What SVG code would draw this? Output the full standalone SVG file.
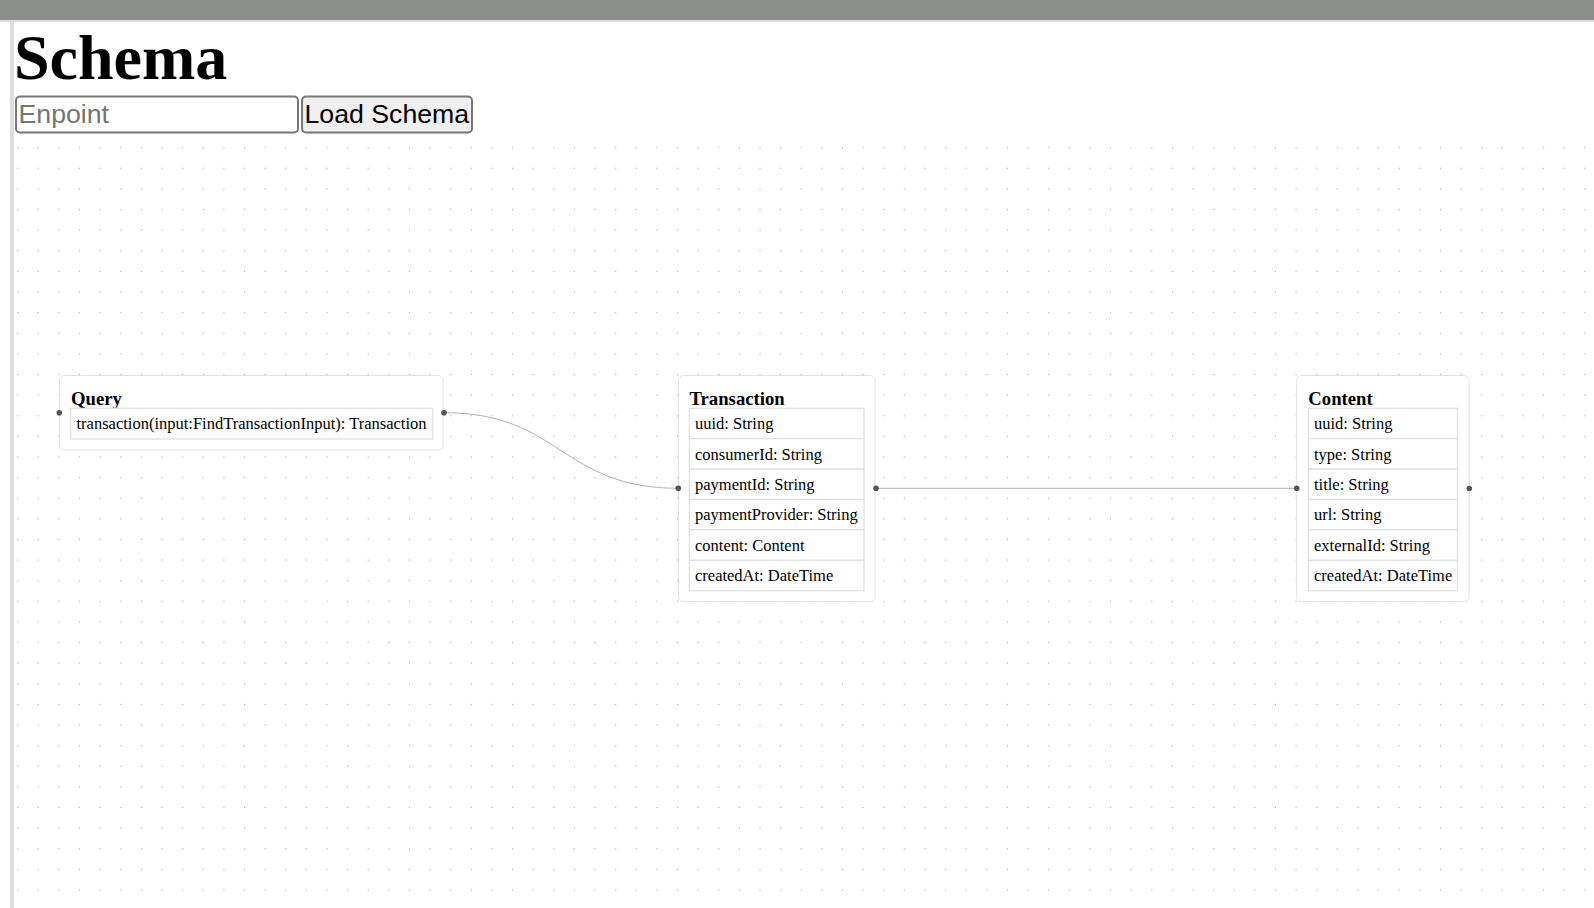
<svg xmlns="http://www.w3.org/2000/svg" width="1594" height="908" viewBox="0 0 1594 908">
<style>
.node{fill:#ffffff;stroke:#e2e2e2;stroke-width:1}
.row{fill:#ffffff;stroke:#e0e0e0;stroke-width:1.2}
.title{font-family:"Liberation Serif","Times New Roman",serif;font-weight:bold;font-size:18.7px;fill:#000}
.field{font-family:"Liberation Serif","Times New Roman",serif;font-size:16.5px;fill:#000}
.handle{fill:#555555}
.edge{fill:none;stroke:#b1b1b7;stroke-width:1}
</style>
<defs>
<pattern id="dots" x="7.39" y="137.39" width="20.62" height="20.62" patternUnits="userSpaceOnUse">
<circle cx="10.31" cy="10.31" r="0.7" fill="#b4b4b4"/>
</pattern>
</defs>
<rect x="0" y="0" width="1594" height="908" fill="#ffffff"/>
<rect x="0" y="0" width="1594" height="20" fill="#8b8f8b"/>
<rect x="0" y="20" width="1594" height="2" fill="#dcdcdc"/>
<rect x="10" y="22" width="4" height="886" fill="#dddddd"/>
<rect x="14" y="137.4" width="1580" height="770.6" fill="url(#dots)"/>
<g id="header">
<text x="14" y="78.5" font-family="Liberation Serif,'Times New Roman',serif" font-weight="bold" font-size="64">Schema</text>
<rect x="16" y="96.5" width="282" height="36" rx="4" fill="#ffffff" stroke="#767676" stroke-width="2"/>
<text x="18.5" y="122.8" font-family="Liberation Sans,Arial,sans-serif" font-size="26.7" fill="#757575">Enpoint</text>
<rect x="302" y="96.5" width="170" height="36" rx="4" fill="#efefef" stroke="#767676" stroke-width="2"/>
<text x="304.5" y="122.8" font-family="Liberation Sans,Arial,sans-serif" font-size="26.7" fill="#000000">Load Schema</text>
</g>
<g id="edges">
<path class="edge" d="M444,412.7 C561,412.7 561,488.3 678.3,488.3"/>
<path class="edge" d="M876,488.3 L1296.7,488.3" stroke="#9b9ba1"/>
</g>
<g id="node-query">
<rect class="node" x="59.5" y="375.5" width="383.5" height="74.5" rx="5"/>
<text class="title" x="71" y="404.5">Query</text>
<rect class="row" x="70.7" y="408.3" width="362" height="30.7"/>
<text class="field" x="76.5" y="429.2">transaction(input:FindTransactionInput): Transaction</text>
<circle class="handle" cx="59.3" cy="412.7" r="2.8"/>
<circle class="handle" cx="444" cy="412.7" r="2.8"/>
</g>
<g id="node-transaction">
<rect class="node" x="678.5" y="375.5" width="196.5" height="226" rx="5"/>
<text class="title" x="689.5" y="404.5">Transaction</text>
<rect class="row" x="689.3" y="408.3" width="174.7" height="30.4"/>
<rect class="row" x="689.3" y="438.7" width="174.7" height="30.4"/>
<rect class="row" x="689.3" y="469.1" width="174.7" height="30.4"/>
<rect class="row" x="689.3" y="499.5" width="174.7" height="30.4"/>
<rect class="row" x="689.3" y="529.9" width="174.7" height="30.4"/>
<rect class="row" x="689.3" y="560.3" width="174.7" height="30.4"/>
<text class="field" x="695" y="429.2">uuid: String</text>
<text class="field" x="695" y="459.6">consumerId: String</text>
<text class="field" x="695" y="490">paymentId: String</text>
<text class="field" x="695" y="520.4">paymentProvider: String</text>
<text class="field" x="695" y="550.8">content: Content</text>
<text class="field" x="695" y="581.2">createdAt: DateTime</text>
<circle class="handle" cx="678.3" cy="488.3" r="2.8"/>
<circle class="handle" cx="876" cy="488.3" r="2.8"/>
</g>
<g id="node-content">
<rect class="node" x="1296.7" y="375.5" width="172.5" height="226" rx="5"/>
<text class="title" x="1308.3" y="404.5">Content</text>
<rect class="row" x="1308.3" y="408.3" width="149.2" height="30.4"/>
<rect class="row" x="1308.3" y="438.7" width="149.2" height="30.4"/>
<rect class="row" x="1308.3" y="469.1" width="149.2" height="30.4"/>
<rect class="row" x="1308.3" y="499.5" width="149.2" height="30.4"/>
<rect class="row" x="1308.3" y="529.9" width="149.2" height="30.4"/>
<rect class="row" x="1308.3" y="560.3" width="149.2" height="30.4"/>
<text class="field" x="1314" y="429.2">uuid: String</text>
<text class="field" x="1314" y="459.6">type: String</text>
<text class="field" x="1314" y="490">title: String</text>
<text class="field" x="1314" y="520.4">url: String</text>
<text class="field" x="1314" y="550.8">externalId: String</text>
<text class="field" x="1314" y="581.2">createdAt: DateTime</text>
<circle class="handle" cx="1296.7" cy="488.3" r="2.8"/>
<circle class="handle" cx="1469.3" cy="488.5" r="2.8"/>
</g>
</svg>
